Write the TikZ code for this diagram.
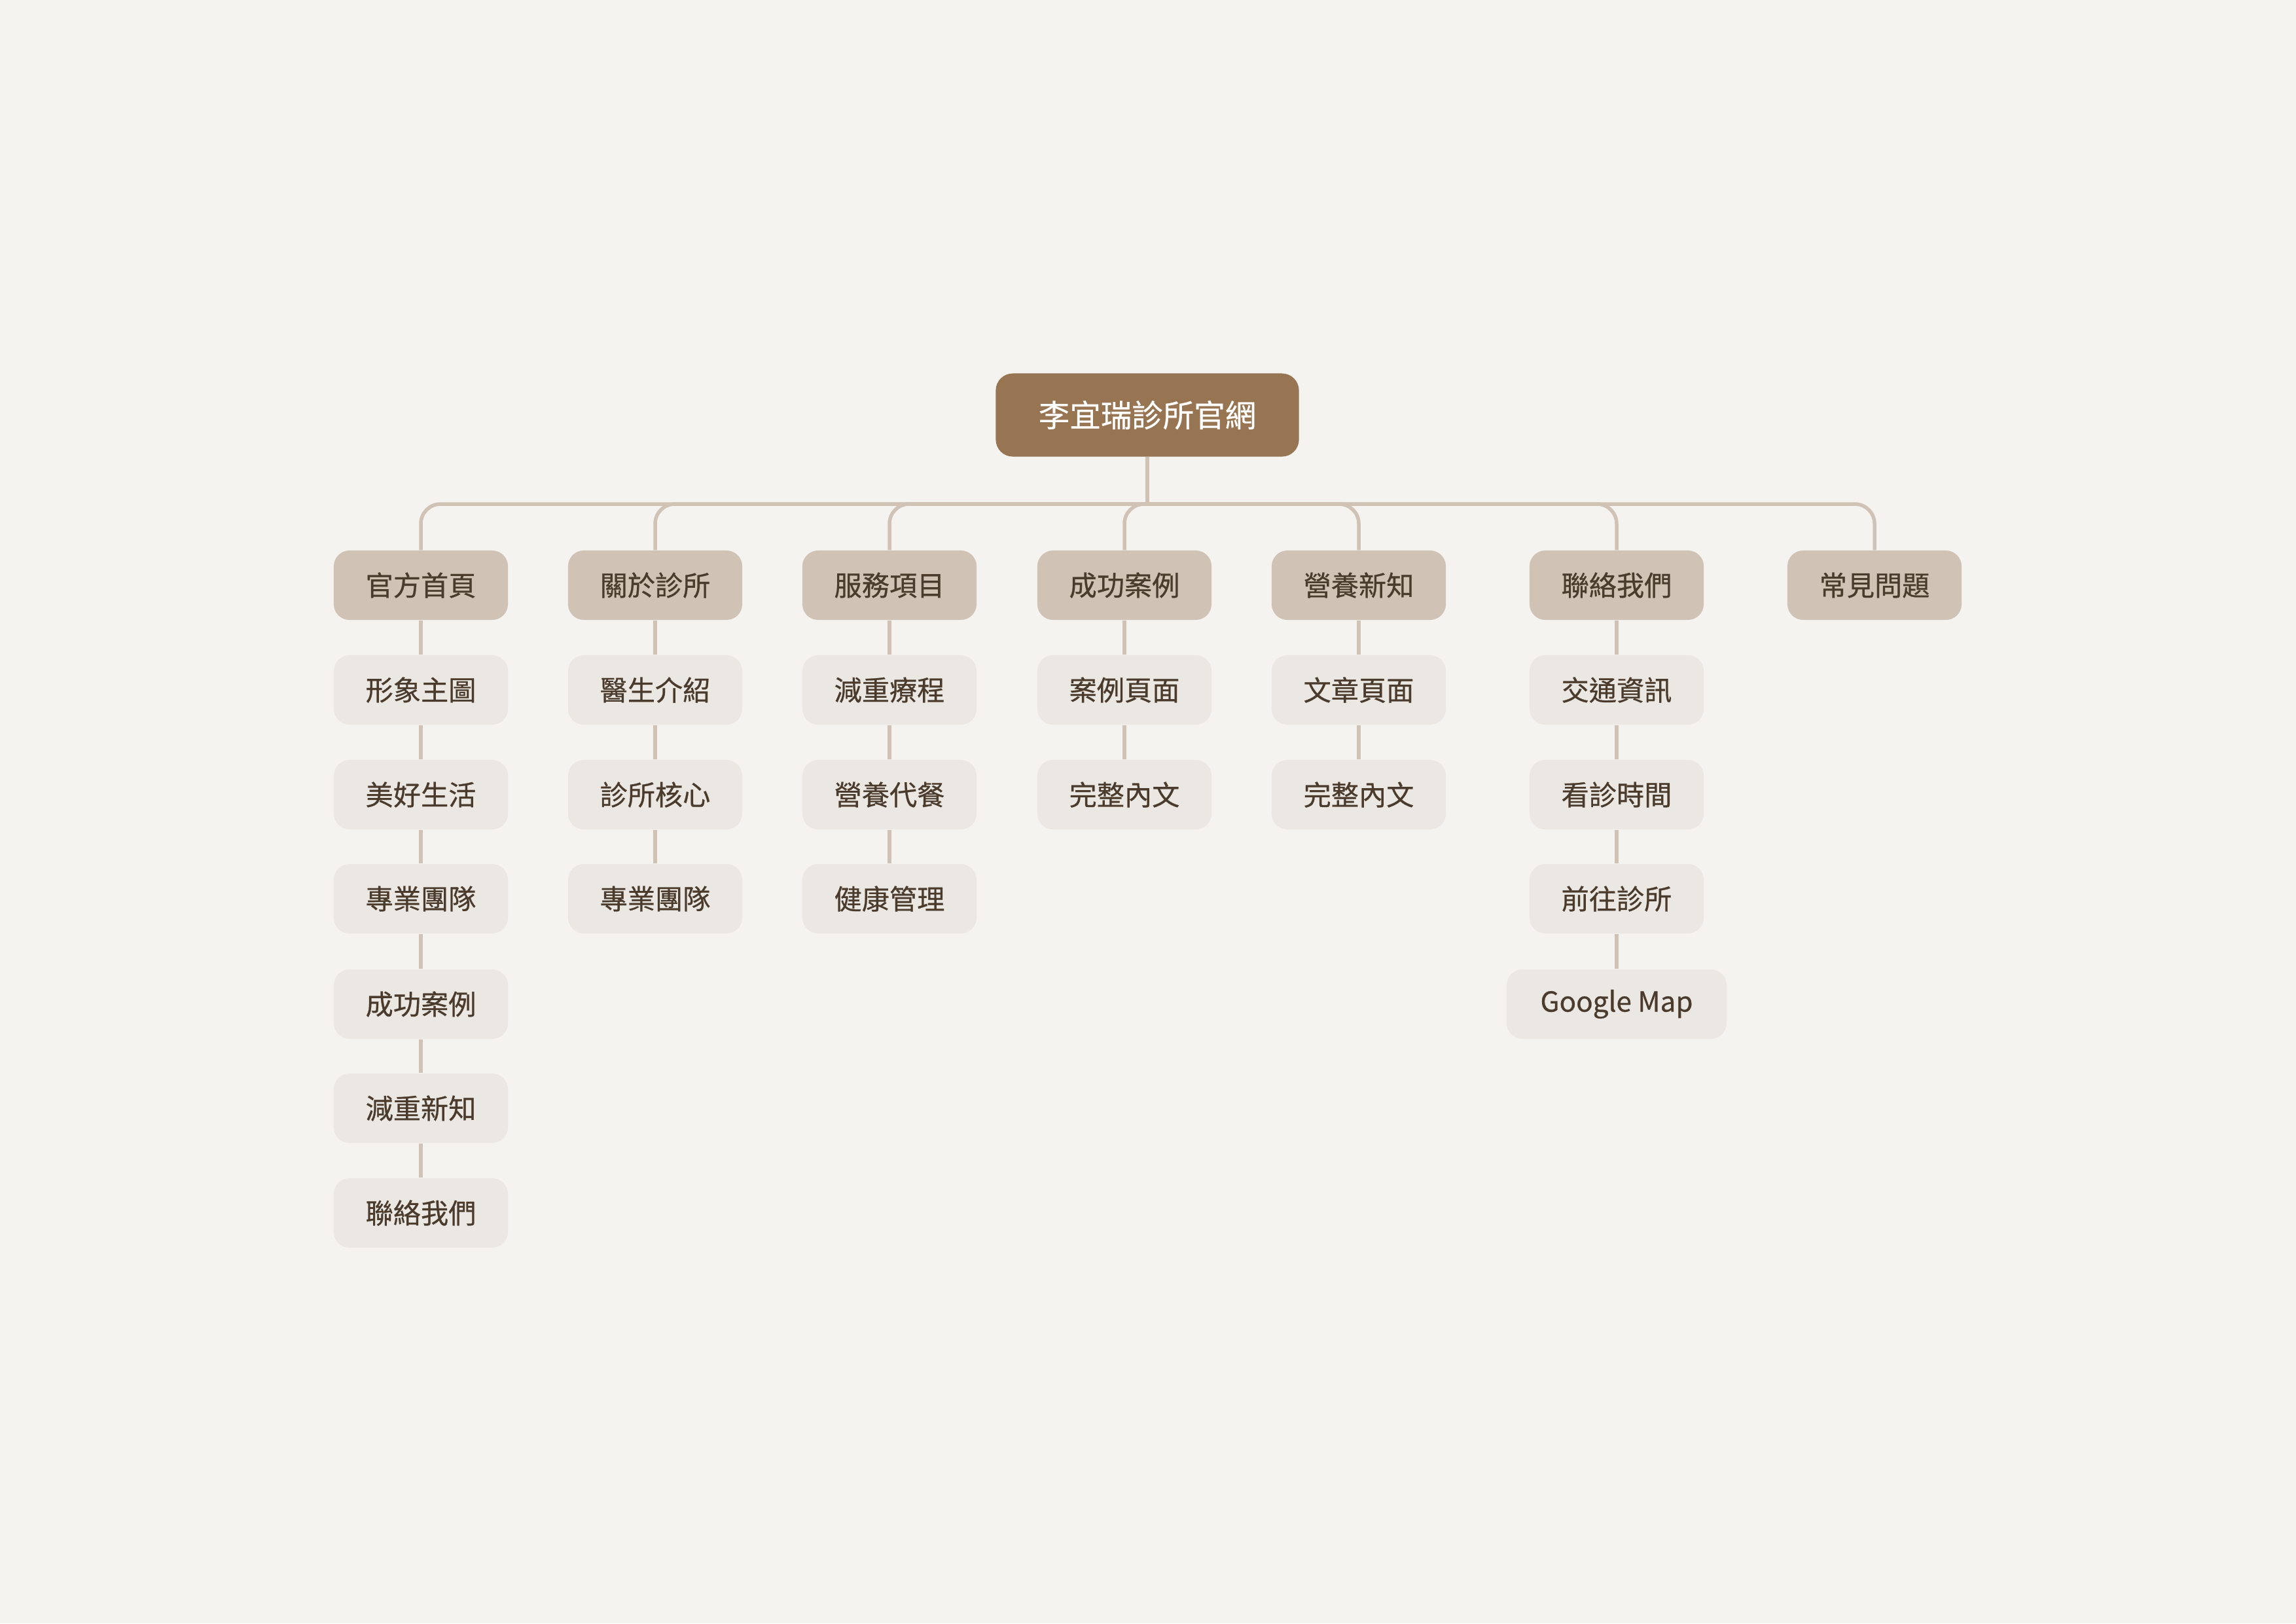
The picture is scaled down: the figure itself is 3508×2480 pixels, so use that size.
\documentclass[tikz,border=0pt]{standalone}
\usepackage{fontspec}
\setmainfont{Noto Sans CJK TC}[FakeBold=0.6]
\definecolor{bgc}{HTML}{F5F3F0}
\definecolor{rootc}{HTML}{977552}
\definecolor{lvla}{HTML}{D0C2B5}
\definecolor{lvlb}{HTML}{EBE8E3}
\definecolor{linec}{HTML}{D0C2B5}
\definecolor{txtc}{HTML}{4A3B2C}
\begin{document}
\begin{tikzpicture}[x=0.01cm,y=-0.01cm,
  rootbox/.style={fill=rootc,rounded corners=0.26cm,minimum width=4.63cm,minimum height=1.27cm,inner sep=0pt,text=white,font=\fontsize{13.5}{16}\selectfont},
  secbox/.style={fill=lvla,rounded corners=0.24cm,minimum width=2.66cm,minimum height=1.06cm,inner sep=0pt,text=txtc,font=\fontsize{12}{14}\selectfont},
  pagebox/.style={fill=lvlb,rounded corners=0.24cm,minimum width=2.66cm,minimum height=1.06cm,inner sep=0pt,text=txtc,font=\fontsize{12}{14}\selectfont},
  conn/.style={draw=linec,line width=0.055cm},
  branch/.style={conn,rounded corners=0.3cm}]
\fill[bgc] (0,0) rectangle (3508,2480);
\useasboundingbox (0,0) rectangle (3508,2480);
% root
\node[rootbox] (r) at (1753,634) {李宜瑞診所官網};
\coordinate (j) at (1753,770);
% level 1
\node[secbox] (a1) at (643,894) {官方首頁};
\node[secbox] (a2) at (1001,894) {關於診所};
\node[secbox] (a3) at (1359,894) {服務項目};
\node[secbox] (a4) at (1718,894) {成功案例};
\node[secbox] (a5) at (2076,894) {營養新知};
\node[secbox] (a6) at (2470,894) {聯絡我們};
\node[secbox] (a7) at (2864,894) {常見問題};
% column 1
\node[pagebox] (b11) at (643,1054) {形象主圖};
\node[pagebox] (b12) at (643,1214) {美好生活};
\node[pagebox] (b13) at (643,1373) {專業團隊};
\node[pagebox] (b14) at (643,1534) {成功案例};
\node[pagebox] (b15) at (643,1693) {減重新知};
\node[pagebox] (b16) at (643,1853) {聯絡我們};
% column 2
\node[pagebox] (b21) at (1001,1054) {醫生介紹};
\node[pagebox] (b22) at (1001,1214) {診所核心};
\node[pagebox] (b23) at (1001,1373) {專業團隊};
% column 3
\node[pagebox] (b31) at (1359,1054) {減重療程};
\node[pagebox] (b32) at (1359,1214) {營養代餐};
\node[pagebox] (b33) at (1359,1373) {健康管理};
% column 4
\node[pagebox] (b41) at (1718,1054) {案例頁面};
\node[pagebox] (b42) at (1718,1214) {完整內文};
% column 5
\node[pagebox] (b51) at (2076,1054) {文章頁面};
\node[pagebox] (b52) at (2076,1214) {完整內文};
% column 6
\node[pagebox] (b61) at (2470,1054) {交通資訊};
\node[pagebox] (b62) at (2470,1214) {看診時間};
\node[pagebox] (b63) at (2470,1373) {前往診所};
\node[pagebox,minimum width=3.36cm] (b64) at (2470,1534) {Google Map};
% connectors
\draw[conn] (r.south) -- (j);
\foreach \c in {a1,a2,a3,a4,a5,a6,a7} {
  \draw[branch] (j) -| (\c.north);
}
\draw[conn] (a1.south) -- (b11.north);
\draw[conn] (b11.south) -- (b12.north);
\draw[conn] (b12.south) -- (b13.north);
\draw[conn] (b13.south) -- (b14.north);
\draw[conn] (b14.south) -- (b15.north);
\draw[conn] (b15.south) -- (b16.north);
\draw[conn] (a2.south) -- (b21.north);
\draw[conn] (b21.south) -- (b22.north);
\draw[conn] (b22.south) -- (b23.north);
\draw[conn] (a3.south) -- (b31.north);
\draw[conn] (b31.south) -- (b32.north);
\draw[conn] (b32.south) -- (b33.north);
\draw[conn] (a4.south) -- (b41.north);
\draw[conn] (b41.south) -- (b42.north);
\draw[conn] (a5.south) -- (b51.north);
\draw[conn] (b51.south) -- (b52.north);
\draw[conn] (a6.south) -- (b61.north);
\draw[conn] (b61.south) -- (b62.north);
\draw[conn] (b62.south) -- (b63.north);
\draw[conn] (b63.south) -- (b64.north);
\end{tikzpicture}
\end{document}
